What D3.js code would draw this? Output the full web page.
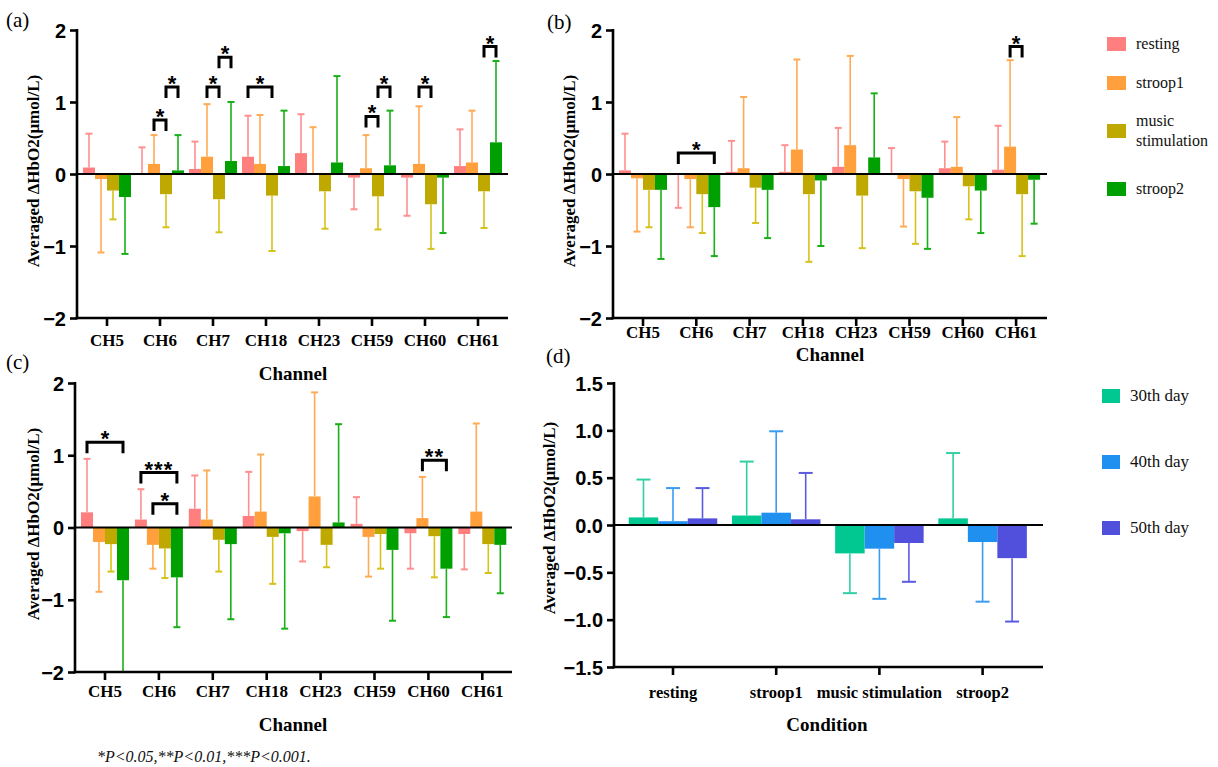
<!DOCTYPE html>
<html>
<head>
<meta charset="utf-8">
<script src="https://cdn.jsdelivr.net/npm/d3@7"></script>
<style>
  html, body { margin: 0; padding: 0; background: #ffffff; }
  svg { display: block; }
</style>
</head>
<body>
<svg id="chart" width="1218" height="767"></svg>
<script>
// ---- categories ----
const channels = ["CH5", "CH6", "CH7", "CH18", "CH23", "CH59", "CH60", "CH61"];
const conditions = ["resting", "stroop1", "music stimulation", "stroop2"];
const days = ["30th day", "40th day", "50th day"];

// ---- tick labels ----
const channelYTicks = [-2, -1, 0, 1, 2];
const conditionYTicks = [-1.5, -1.0, -0.5, 0.0, 0.5, 1.0, 1.5];

// ---- panel (a): mean and SD per condition, one value per channel ----
const aMeans = [
  [0.09, 0.00, 0.07, 0.24, 0.29, -0.05, -0.05, 0.11],
  [-0.07, 0.14, 0.24, 0.14, 0.00, 0.08, 0.14, 0.16],
  [-0.23, -0.28, -0.35, -0.30, -0.24, -0.31, -0.42, -0.24],
  [-0.32, 0.05, 0.18, 0.11, 0.16, 0.12, -0.05, 0.44]
];
const aSDs = [
  [0.47, 0.37, 0.38, 0.57, 0.54, 0.44, 0.53, 0.51],
  [1.02, 0.40, 0.73, 0.68, 0.65, 0.46, 0.80, 0.72],
  [0.40, 0.46, 0.46, 0.77, 0.52, 0.46, 0.62, 0.51],
  [0.79, 0.49, 0.82, 0.77, 1.20, 0.76, 0.77, 1.13]
];

// ---- panel (b) ----
const bMeans = [
  [0.05, -0.01, 0.03, 0.03, 0.10, 0.00, 0.08, 0.06],
  [-0.06, -0.07, 0.08, 0.34, 0.40, -0.07, 0.10, 0.38],
  [-0.22, -0.28, -0.19, -0.28, -0.30, -0.24, -0.17, -0.28],
  [-0.22, -0.46, -0.22, -0.09, 0.23, -0.33, -0.23, -0.08]
];
const bSDs = [
  [0.51, 0.46, 0.43, 0.37, 0.54, 0.36, 0.37, 0.61],
  [0.74, 0.67, 0.99, 1.25, 1.24, 0.66, 0.69, 1.20],
  [0.52, 0.54, 0.49, 0.94, 0.73, 0.73, 0.46, 0.86],
  [0.96, 0.68, 0.67, 0.91, 0.89, 0.71, 0.59, 0.61]
];

// ---- panel (c) ----
const cMeans = [
  [0.21, 0.11, 0.26, 0.16, -0.05, 0.05, -0.08, -0.09],
  [-0.20, -0.24, 0.11, 0.22, 0.43, -0.13, 0.13, 0.22],
  [-0.23, -0.29, -0.17, -0.13, -0.24, -0.09, -0.12, -0.23],
  [-0.73, -0.69, -0.23, -0.08, 0.07, -0.31, -0.57, -0.24]
];
const cSDs = [
  [0.74, 0.42, 0.46, 0.61, 0.42, 0.37, 0.49, 0.49],
  [0.69, 0.33, 0.68, 0.79, 1.44, 0.55, 0.57, 1.22],
  [0.38, 0.41, 0.44, 0.65, 0.31, 0.48, 0.57, 0.40],
  [1.27, 0.69, 1.04, 1.32, 1.36, 0.98, 0.67, 0.67]
];

// ---- panel (d): mean and SD per day, one value per condition ----
const dMeans = [
  [0.08, 0.10, -0.30, 0.07],
  [0.04, 0.13, -0.25, -0.18],
  [0.07, 0.06, -0.19, -0.35]
];
const dSDs = [
  [0.40, 0.57, 0.42, 0.69],
  [0.35, 0.86, 0.53, 0.63],
  [0.32, 0.49, 0.41, 0.67]
];

// ---- significance brackets: [category, from series, to series, height, label] ----
const aSig = [
  ["CH6", 1, 2, 0.75, "*"], ["CH6", 2, 3, 1.21, "*"],
  ["CH7", 1, 2, 1.21, "*"], ["CH7", 2, 3, 1.62, "*"],
  ["CH18", 0, 2, 1.21, "*"],
  ["CH59", 1, 2, 0.80, "*"], ["CH59", 2, 3, 1.21, "*"],
  ["CH60", 1, 2, 1.21, "*"],
  ["CH61", 2, 3, 1.77, "*"]
];
const bSig = [
  ["CH6", 0, 3, 0.29, "*"],
  ["CH61", 1, 2, 1.77, "*"]
];
const cSig = [
  ["CH5", 0, 3, 1.18, "*"],
  ["CH6", 0, 3, 0.76, "***"],
  ["CH6", 1, 3, 0.33, "*"],
  ["CH60", 1, 3, 0.93, "**"]
];

// ---- colours ----
const conditionFill = ["#ff7f7f", "#ffa03c", "#bfa800", "#00a000"];
const conditionErr  = ["#ff8f8f", "#ffaa55", "#d6c21a", "#18b018"];
const dayFill = ["#00c890", "#2090f0", "#5050dc"];
const dayErr  = ["#30d0a4", "#3a9cf2", "#5a5ae0"];

const svg = d3.select("#chart");
svg.append("rect").attr("width", 1218).attr("height", 767).attr("fill", "#ffffff");

const SERIF = '"Liberation Serif", "Times New Roman", serif';
const SANS = '"Liberation Sans", Arial, sans-serif';

function drawPanel(cfg) {
  const g = svg.append("g");
  const n = cfg.categories.length;
  const groupW = cfg.series.length * cfg.barW;
  const pad = 1 - groupW / cfg.step;
  const r0 = cfg.firstCenter - cfg.step / 2;

  const x0 = d3.scaleBand()
    .domain(cfg.categories)
    .range([r0, r0 + n * cfg.step])
    .paddingInner(pad)
    .paddingOuter(pad / 2);
  const x1 = d3.scaleBand()
    .domain(d3.range(cfg.series.length))
    .range([0, x0.bandwidth()]);
  const y = d3.scaleLinear().domain(cfg.yDomain).range([cfg.yBottom, cfg.yTop]);

  // bars
  cfg.means.forEach((row, si) => {
    const cx = c => x0(c) + x1(si);
    g.append("g").selectAll("rect")
      .data(row.map((v, ci) => ({ c: cfg.categories[ci], v })))
      .join("rect")
      .attr("x", d => cx(d.c))
      .attr("width", x1.bandwidth())
      .attr("y", d => y(Math.max(0, d.v)))
      .attr("height", d => Math.abs(y(d.v) - y(0)))
      .attr("fill", cfg.fills[si]);

    // one-sided error bars pointing away from zero
    const eg = g.append("g").attr("stroke", cfg.errColors[si]).attr("stroke-width", 1.6).attr("fill", "none");
    row.forEach((v, ci) => {
      const c = cfg.categories[ci];
      const sd = cfg.sds[si][ci];
      const end = v >= 0 ? v + sd : v - sd;
      const xm = cx(c) + x1.bandwidth() / 2;
      eg.append("line").attr("x1", xm).attr("x2", xm).attr("y1", y(v)).attr("y2", y(end));
      eg.append("line").attr("x1", xm - cfg.capW / 2).attr("x2", xm + cfg.capW / 2)
        .attr("y1", y(end)).attr("y2", y(end)).attr("stroke-width", 2);
    });
  });

  // zero line
  g.append("line")
    .attr("x1", cfg.axisX).attr("x2", cfg.axisEnd)
    .attr("y1", y(0)).attr("y2", y(0))
    .attr("stroke", "#000").attr("stroke-width", 2.2);

  // axis lines
  g.append("line").attr("x1", cfg.axisX).attr("x2", cfg.axisX)
    .attr("y1", cfg.yTop - 1).attr("y2", cfg.yBottom + 1.2)
    .attr("stroke", "#000").attr("stroke-width", 2.6);
  g.append("line").attr("x1", cfg.axisX - 1.3).attr("x2", cfg.axisEnd)
    .attr("y1", cfg.yBottom).attr("y2", cfg.yBottom)
    .attr("stroke", "#000").attr("stroke-width", 2.6);

  // y axis ticks and labels
  const yAxis = d3.axisLeft(y).tickValues(cfg.yTicks).tickFormat(cfg.yFormat).tickSize(7).tickPadding(4);
  const ya = g.append("g").attr("transform", `translate(${cfg.axisX},0)`).call(yAxis);
  ya.select(".domain").remove();
  ya.selectAll(".tick line").attr("stroke", "#000").attr("stroke-width", 2.6);
  ya.selectAll(".tick text")
    .attr("font-family", SANS).attr("font-weight", "bold").attr("font-size", 20)
    .attr("fill", "#000").attr("dy", "0.35em");

  // x axis ticks and labels
  const xAxis = d3.axisBottom(x0).tickSize(8).tickPadding(cfg.xLabelPad);
  const xa = g.append("g").attr("transform", `translate(0,${cfg.yBottom})`).call(xAxis);
  xa.select(".domain").remove();
  xa.selectAll(".tick line").attr("stroke", "#000").attr("stroke-width", 2.6);
  xa.selectAll(".tick text")
    .attr("font-family", SERIF).attr("font-weight", "bold").attr("font-size", cfg.xLabelSize)
    .attr("fill", "#000");

  // axis titles
  g.append("text")
    .attr("transform", `translate(${cfg.yTitleX},${cfg.yTitleY}) rotate(-90)`)
    .attr("text-anchor", "middle").attr("dominant-baseline", "central")
    .attr("font-family", SERIF).attr("font-weight", "bold").attr("font-size", 17)
    .text("Averaged ΔHbO2(μmol/L)");
  g.append("text")
    .attr("x", cfg.xTitleX).attr("y", cfg.xTitleY)
    .attr("text-anchor", "middle")
    .attr("font-family", SERIF).attr("font-weight", "bold").attr("font-size", 19)
    .text(cfg.xTitle);

  // panel letter
  g.append("text")
    .attr("x", cfg.letterX).attr("y", cfg.letterY)
    .attr("font-family", SERIF).attr("font-size", 21)
    .text(cfg.letter);

  // significance brackets
  (cfg.sig || []).forEach(([c, a, b, h, lab]) => {
    const xa_ = x0(c) + x1(a) + x1.bandwidth() / 2;
    const xb_ = x0(c) + x1(b) + x1.bandwidth() / 2;
    const yy = y(h);
    g.append("path")
      .attr("d", `M${xa_},${yy + 11}V${yy}H${xb_}V${yy + 11}`)
      .attr("fill", "none").attr("stroke", "#000").attr("stroke-width", 3);
    g.append("text")
      .attr("x", (xa_ + xb_) / 2).attr("y", yy + 4)
      .attr("text-anchor", "middle")
      .attr("font-family", SANS).attr("font-weight", "bold").attr("font-size", 22)
      .attr("letter-spacing", lab.length > 1 ? 1 : 0)
      .text(lab);
  });
}

const chFmt = d3.format("d");
const condFmt = d3.format(".1f");

drawPanel({
  letter: "(a)", letterX: 6, letterY: 27,
  categories: channels, series: conditions, means: aMeans, sds: aSDs, sig: aSig,
  fills: conditionFill, errColors: conditionErr,
  axisX: 77, axisEnd: 508, firstCenter: 107, step: 53, barW: 12, capW: 7,
  yTop: 30, yBottom: 318, yDomain: [-2, 2], yTicks: channelYTicks, yFormat: chFmt,
  xLabelPad: 8, xLabelSize: 17,
  yTitleX: 33, yTitleY: 171,
  xTitle: "Channel", xTitleX: 293, xTitleY: 380
});

drawPanel({
  letter: "(b)", letterX: 547, letterY: 29,
  categories: channels, series: conditions, means: bMeans, sds: bSDs, sig: bSig,
  fills: conditionFill, errColors: conditionErr,
  axisX: 613, axisEnd: 1047, firstCenter: 643, step: 53.3, barW: 12, capW: 7,
  yTop: 30, yBottom: 318, yDomain: [-2, 2], yTicks: channelYTicks, yFormat: chFmt,
  xLabelPad: 0, xLabelSize: 17,
  yTitleX: 569, yTitleY: 171,
  xTitle: "Channel", xTitleX: 830, xTitleY: 361
});

drawPanel({
  letter: "(c)", letterX: 6, letterY: 369,
  categories: channels, series: conditions, means: cMeans, sds: cSDs, sig: cSig,
  fills: conditionFill, errColors: conditionErr,
  axisX: 75, axisEnd: 512, firstCenter: 105, step: 53.9, barW: 12, capW: 7,
  yTop: 383, yBottom: 672, yDomain: [-2, 2], yTicks: channelYTicks, yFormat: chFmt,
  xLabelPad: 5, xLabelSize: 17,
  yTitleX: 33, yTitleY: 524,
  xTitle: "Channel", xTitleX: 293, xTitleY: 731
});

drawPanel({
  letter: "(d)", letterX: 546, letterY: 363,
  categories: conditions, series: days, means: dMeans, sds: dSDs, sig: [],
  fills: dayFill, errColors: dayErr,
  axisX: 614, axisEnd: 1043, firstCenter: 673, step: 103.2, barW: 29.5, capW: 14,
  yTop: 383, yBottom: 667, yDomain: [-1.5, 1.5], yTicks: conditionYTicks, yFormat: condFmt,
  xLabelPad: 11, xLabelSize: 16.5,
  yTitleX: 549, yTitleY: 518,
  xTitle: "Condition", xTitleX: 827, xTitleY: 731
});

// legend for condition panels
const leg1 = svg.append("g");
const leg1Rows = [
  { lines: ["resting"], cy: 44 },
  { lines: ["stroop1"], cy: 83 },
  { lines: ["music", "stimulation"], cy: 131 },
  { lines: ["stroop2"], cy: 189 }
];
leg1Rows.forEach((r, i) => {
  leg1.append("rect").attr("x", 1107).attr("y", r.cy - 7).attr("width", 19).attr("height", 14)
    .attr("fill", conditionFill[i]);
  const t = leg1.append("text").attr("x", 1136)
    .attr("font-family", SERIF).attr("font-size", 16).attr("fill", "#111");
  const y0 = r.cy + 5 - (r.lines.length - 1) * 10;
  r.lines.forEach((ln, j) => t.append("tspan").attr("x", 1136).attr("y", y0 + j * 20).text(ln));
});

// legend for day panel
const leg2 = svg.append("g");
[396, 462, 528].forEach((cy, i) => {
  leg2.append("rect").attr("x", 1102).attr("y", cy - 7).attr("width", 18).attr("height", 14)
    .attr("fill", dayFill[i]);
  leg2.append("text").attr("x", 1130).attr("y", cy + 5)
    .attr("font-family", SERIF).attr("font-size", 17).attr("fill", "#111")
    .text(days[i]);
});

// significance note
svg.append("text")
  .attr("x", 97).attr("y", 762)
  .attr("font-family", SERIF).attr("font-style", "italic").attr("font-size", 16)
  .attr("fill", "#111")
  .text("*P<0.05,**P<0.01,***P<0.001.");
</script>
</body>
</html>
